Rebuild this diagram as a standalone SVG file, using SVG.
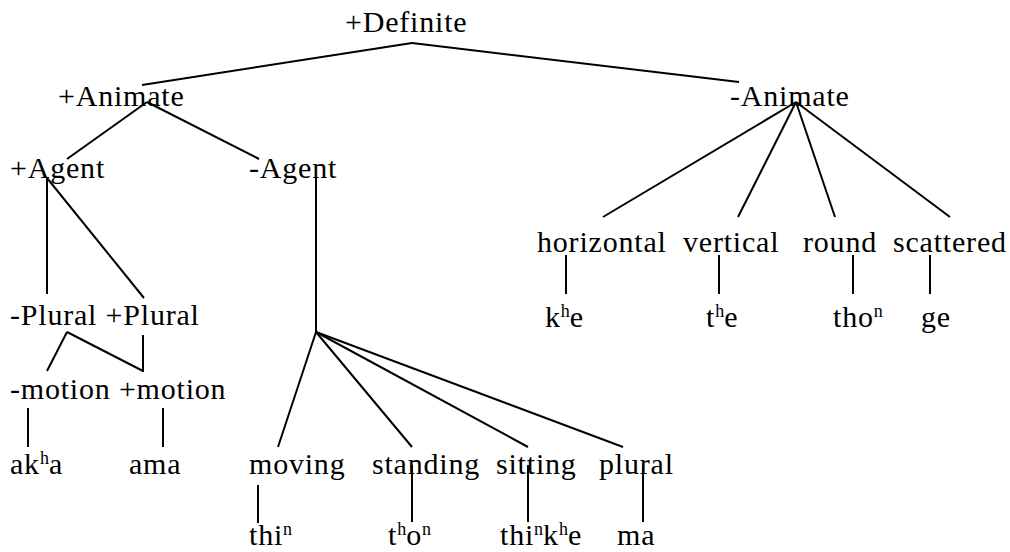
<svg xmlns="http://www.w3.org/2000/svg" width="1010" height="552" viewBox="0 0 1010 552">
<style>
text{font-family:"Liberation Serif","Times New Roman",serif;font-size:30px;letter-spacing:0.8px;fill:#000}
.sup{font-size:18px;letter-spacing:0}
line{stroke:#000;stroke-width:2;fill:none}
</style>
<rect width="1010" height="552" fill="#fff"/>
<g id="connectors">
<line x1="412" y1="43" x2="142" y2="85"/>
<line x1="412" y1="43" x2="739" y2="82"/>
<line x1="147" y1="102" x2="67" y2="159"/>
<line x1="147" y1="102" x2="259" y2="159"/>
<line x1="47" y1="178" x2="47" y2="294"/>
<line x1="47" y1="178" x2="144" y2="298"/>
<line x1="316" y1="178" x2="316" y2="333"/>
<line x1="67" y1="332" x2="47" y2="371"/>
<line x1="67" y1="332" x2="143" y2="371"/>
<line x1="143" y1="335" x2="143" y2="372"/>
<line x1="28" y1="408" x2="28" y2="447"/>
<line x1="163" y1="408" x2="163" y2="447"/>
<line x1="316" y1="332" x2="278" y2="447"/>
<line x1="316" y1="332" x2="412" y2="447"/>
<line x1="316" y1="332" x2="528" y2="447"/>
<line x1="316" y1="332" x2="623" y2="447"/>
<line x1="258" y1="485" x2="258" y2="523"/>
<line x1="412" y1="465" x2="412" y2="522"/>
<line x1="528" y1="465" x2="528" y2="522"/>
<line x1="643" y1="465" x2="643" y2="522"/>
<line x1="796" y1="102" x2="603" y2="217"/>
<line x1="796" y1="102" x2="738" y2="217"/>
<line x1="796" y1="102" x2="835" y2="217"/>
<line x1="796" y1="102" x2="950" y2="217"/>
<line x1="566" y1="255" x2="566" y2="294"/>
<line x1="719" y1="255" x2="719" y2="294"/>
<line x1="853" y1="255" x2="853" y2="294"/>
<line x1="930" y1="255" x2="930" y2="294"/>
</g>
<g id="n-definite"><text x="345" y="32">+Definite</text></g>
<g id="n-animate-plus"><text x="58" y="106">+Animate</text></g>
<g id="n-animate-minus"><text x="730" y="106">-Animate</text></g>
<g id="n-agent-plus"><text x="10" y="178">+Agent</text></g>
<g id="n-agent-minus"><text x="249" y="178">-Agent</text></g>
<g id="n-plural"><text x="10" y="325">-Plural +Plural</text></g>
<g id="n-motion"><text x="10" y="399">-motion +motion</text></g>
<g id="n-akha"><text x="10" y="474">ak<tspan class="sup" dy="-10">h</tspan><tspan dy="10">a</tspan></text></g>
<g id="n-ama"><text x="129" y="474">ama</text></g>
<g id="n-moving"><text x="249" y="474">moving</text></g>
<g id="n-standing"><text x="372" y="474">standing</text></g>
<g id="n-sitting"><text x="496" y="474">sitting</text></g>
<g id="n-plural-leaf"><text x="599" y="474">plural</text></g>
<g id="n-thin"><text x="249" y="545">thi<tspan class="sup" dy="-10">n</tspan></text></g>
<g id="n-thon"><text x="388" y="545">t<tspan class="sup" dy="-10">h</tspan><tspan dy="10">o</tspan><tspan class="sup" dy="-10">n</tspan></text></g>
<g id="n-thinkhe"><text x="500" y="545">thi<tspan class="sup" dy="-10">n</tspan><tspan dy="10">k</tspan><tspan class="sup" dy="-10">h</tspan><tspan dy="10">e</tspan></text></g>
<g id="n-ma"><text x="617" y="545">ma</text></g>
<g id="n-horizontal"><text x="537" y="252">horizontal</text></g>
<g id="n-vertical"><text x="683" y="252">vertical</text></g>
<g id="n-round"><text x="803" y="252">round</text></g>
<g id="n-scattered"><text x="893" y="252">scattered</text></g>
<g id="n-khe"><text x="545" y="327">k<tspan class="sup" dy="-10">h</tspan><tspan dy="10">e</tspan></text></g>
<g id="n-the"><text x="706" y="327">t<tspan class="sup" dy="-10">h</tspan><tspan dy="10">e</tspan></text></g>
<g id="n-thon2"><text x="833" y="327">tho<tspan class="sup" dy="-10">n</tspan></text></g>
<g id="n-ge"><text x="921" y="327">ge</text></g>
</svg>
